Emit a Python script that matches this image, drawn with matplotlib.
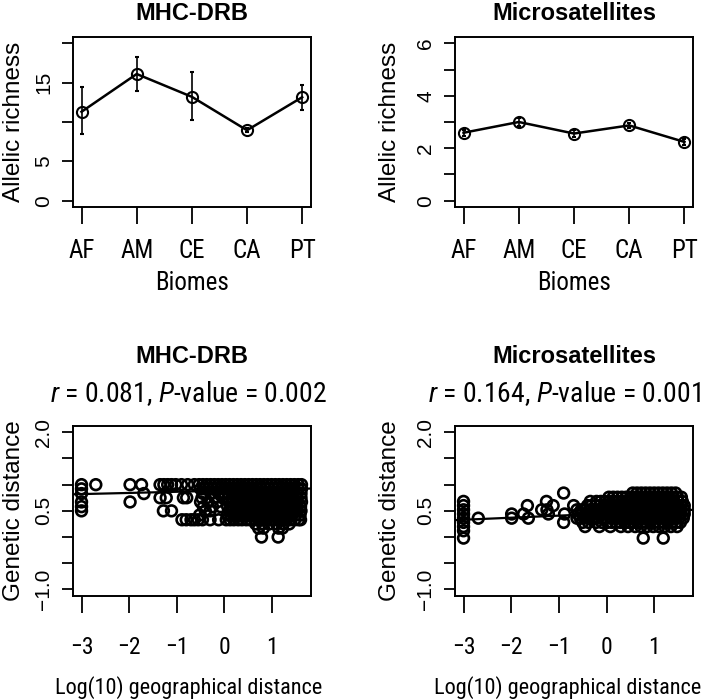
import numpy as np
import matplotlib.pyplot as plt

# narrow face for horizontal text, plain Liberation for the rotated bits
plt.rcParams['font.family'] = ['Roboto Condensed', 'DejaVu Sans Condensed', 'Liberation Sans']
plt.rcParams['mathtext.fontset'] = 'custom'
plt.rcParams['mathtext.it'] = 'Roboto Condensed:italic'
plt.rcParams['mathtext.rm'] = 'Roboto Condensed'

# top row: allelic richness per biome
biomes = ["AF", "AM", "CE", "CA", "PT"]
mhc_rich = [11.3, 16.1, 13.2, 8.95, 13.15]
mhc_lo = [8.5, 14.0, 10.2, 8.7, 11.55]
mhc_hi = [14.4, 18.3, 16.35, 9.2, 14.7]
msat_rich = [2.59, 3.0, 2.56, 2.87, 2.24]
msat_lo = [2.47, 2.86, 2.44, 2.76, 2.13]
msat_hi = [2.71, 3.14, 2.68, 2.98, 2.35]

# bottom row: genetic vs log10 geographic distance, points read row by row
mhc_levels = [1.0, 0.92, 0.83, 0.75, 0.67, 0.58, 0.5, 0.42, 0.33, 0.25, 0.17, 0.0]
mhc_rows = [
    [-3.0, -2.7, -1.98, -1.74, -1.35, -1.27, -1.19, -1.11, -1.02, -0.9, -0.77, -0.63, -0.53, -0.45,
     -0.37, -0.29, -0.21, -0.13, -0.05, 0.03, 0.11, 0.19, 0.27, 0.35, 0.43, 0.51, 0.59, 0.67, 0.75,
     0.83, 0.91, 0.99, 1.07, 1.15, 1.23, 1.31, 1.39, 1.47, 1.55, 1.62],
    [-3.0, -0.5, -0.41, -0.33, -0.24, -0.16, -0.07, 0.02, 0.1, 0.18, 0.27, 0.36, 0.44, 0.53, 0.61,
     0.7, 0.78, 0.87, 0.95, 1.04, 1.12, 1.21, 1.29, 1.38, 1.46, 1.55, 1.62],
    [-3.0, -1.69, -0.44, -0.28, -0.12, 0.0, 0.09, 0.17, 0.26, 0.34, 0.43, 0.51, 0.6, 0.68, 0.77,
     0.85, 0.94, 1.02, 1.11, 1.19, 1.28, 1.36, 1.45, 1.53, 1.61],
    [-1.35, -1.22, -0.86, -0.79, -0.47, -0.2, -0.04, 0.08, 0.16, 0.25, 0.33, 0.42, 0.5, 0.59, 0.67,
     0.76, 0.84, 0.93, 1.01, 1.1, 1.18, 1.27, 1.35, 1.44, 1.52, 1.61],
    [-3.0, -1.98, -0.5, -0.34, -0.15, 0.1, 0.18, 0.27, 0.35, 0.44, 0.52, 0.61, 0.69, 0.78, 0.86,
     0.95, 1.03, 1.12, 1.2, 1.29, 1.37, 1.46, 1.54, 1.62],
    [-3.0, -0.44, -0.25, -0.08, 0.07, 0.15, 0.24, 0.32, 0.41, 0.49, 0.58, 0.66, 0.75, 0.83, 0.92,
     1.0, 1.09, 1.17, 1.26, 1.34, 1.43, 1.51, 1.6],
    [-3.0, -1.28, -1.11, -0.4, -0.3, 0.1, 0.18, 0.27, 0.35, 0.44, 0.52, 0.61, 0.69, 0.78, 0.86,
     0.95, 1.03, 1.12, 1.2, 1.29, 1.37, 1.46, 1.54, 1.61],
    [-0.52, 0.06, 0.14, 0.23, 0.31, 0.4, 0.48, 0.57, 0.65, 0.74, 0.82, 0.91, 0.99, 1.08, 1.16,
     1.25, 1.33, 1.42, 1.5, 1.59],
    [-0.89, -0.8, -0.7, -0.63, -0.55, -0.46, -0.3, -0.12, 0.04, 0.12, 0.2, 0.29, 0.37, 0.46, 0.54,
     0.63, 0.71, 0.8, 0.88, 0.97, 1.05, 1.14, 1.22, 1.31, 1.39, 1.48, 1.56, 1.6],
    [0.66, 0.8, 0.94, 1.1, 1.24, 1.36],
    [0.72, 0.82, 1.14, 1.22],
    [0.78, 1.13],
]
mhc_fit = [0.886, 0.022]  # intercept, slope

msat_levels = [0.84, 0.76, 0.68, 0.6, 0.52, 0.44, 0.36, 0.28, 0.2, 0.12, -0.02]
msat_rows = [
    [-0.9, 0.55, 0.64, 0.73, 0.82, 0.91, 1.0, 1.09, 1.18, 1.27, 1.36, 1.45],
    [0.05, 0.14, 0.23, 0.32, 0.41, 0.5, 0.59, 0.68, 0.77, 0.86, 0.95, 1.04, 1.13, 1.22, 1.31, 1.4,
     1.49, 1.57],
    [-3.0, -1.26, -0.34, -0.21, -0.12, -0.03, 0.06, 0.15, 0.24, 0.33, 0.42, 0.51, 0.6, 0.69, 0.78,
     0.87, 0.96, 1.05, 1.14, 1.23, 1.32, 1.41, 1.5, 1.59],
    [-3.0, -1.66, -1.12, -0.69, -0.4, -0.32, -0.23, -0.14, -0.05, 0.04, 0.13, 0.22, 0.31, 0.4, 0.49,
     0.58, 0.67, 0.76, 0.85, 0.94, 1.03, 1.12, 1.21, 1.3, 1.39, 1.48, 1.57, 1.63],
    [-3.0, -1.36, -1.25, -0.62, -0.53, -0.44, -0.35, -0.26, -0.17, -0.08, 0.01, 0.1, 0.19, 0.28,
     0.37, 0.46, 0.55, 0.64, 0.73, 0.82, 0.91, 1.0, 1.09, 1.18, 1.27, 1.36, 1.45, 1.54, 1.63],
    [-3.0, -1.99, -1.74, -1.22, -0.88, -0.6, -0.51, -0.42, -0.33, -0.24, -0.15, -0.06, 0.03, 0.12,
     0.21, 0.3, 0.39, 0.48, 0.57, 0.66, 0.75, 0.84, 0.93, 1.02, 1.11, 1.2, 1.29, 1.38, 1.47, 1.56,
     1.63],
    [-3.0, -2.69, -1.99, -1.64, -0.62, -0.55, -0.46, -0.37, -0.28, -0.19, -0.1, -0.01, 0.08, 0.17,
     0.26, 0.35, 0.44, 0.53, 0.62, 0.71, 0.8, 0.89, 0.98, 1.07, 1.16, 1.25, 1.34, 1.43, 1.52, 1.61],
    [-3.0, -0.9, -0.5, -0.38, -0.22, -0.1, 0.02, 0.11, 0.2, 0.29, 0.38, 0.47, 0.56, 0.65, 0.74,
     0.83, 0.92, 1.01, 1.1, 1.19, 1.28, 1.37, 1.46, 1.55],
    [-3.0, -0.45, -0.15, 0.08, 0.3, 0.45, 0.6, 0.72, 0.85, 0.98, 1.1, 1.22, 1.35, 1.48],
    [-3.0],
    [-3.0, 0.77, 1.19],
]
msat_fit = [0.448, 0.0394]

W, H = 709, 700
fig = plt.figure(figsize=(W / 100, H / 100), dpi=100)


def add_box(x0, y0, x1, y1):
    return fig.add_axes([x0 / W, 1 - y1 / H, (x1 - x0) / W, (y1 - y0) / H])


def style(ax, xpad, xsize):
    for s in ax.spines.values():
        s.set_linewidth(1.4)
    ax.tick_params(axis='x', length=12, width=1.3, pad=xpad, labelsize=xsize)
    ax.tick_params(axis='y', length=8, width=1.3, pad=6, labelsize=15, labelrotation=90,
                   labelfontfamily='Liberation Sans')
    for lab in ax.get_yticklabels():
        lab.set_va('center')


ax_tl = add_box(72.7, 37, 311, 207)
ax_tr = add_box(454.7, 37, 693.3, 207)
ax_bl = add_box(72.7, 426, 311, 595.7)
ax_br = add_box(454.7, 426, 693.3, 595.7)

xpos = np.arange(1, 6)
for ax, y, lo, hi, ymax, yt, ylabs, title, ylx in [
    (ax_tl, mhc_rich, mhc_lo, mhc_hi, 20, [0, 5, 10, 15, 20], ["0", "5", "", "15", ""], "MHC-DRB", -0.246),
    (ax_tr, msat_rich, msat_lo, msat_hi, 6, [0, 1, 2, 3, 4, 5, 6], ["0", "", "2", "", "4", "", "6"],
     "Microsatellites", -0.271),
]:
    y = np.array(y)
    err = [y - np.array(lo), np.array(hi) - y]
    ax.errorbar(xpos, y, yerr=err, fmt='o-', color='k', mfc='none', mec='k', ms=8, mew=1.5,
                lw=1.8, elinewidth=1.2, capsize=1.5)
    ax.set_xlim(0.84, 5.16)
    ax.set_ylim(-0.04 * ymax, 1.04 * ymax)
    ax.set_xticks(xpos)
    ax.set_xticklabels(biomes)
    ax.set_yticks(yt)
    ax.set_yticklabels(ylabs)
    style(ax, 11, 18)
    ax.text(0.5, 1.141, title, transform=ax.transAxes, ha='center', va='center',
            fontsize=17, fontweight='bold', family='Liberation Sans')
    ax.text(0.5, -0.447, "Biomes", transform=ax.transAxes, ha='center', va='center', fontsize=18)
    ax.text(ylx, 0.5, "Allelic richness", transform=ax.transAxes, ha='center', va='center',
            rotation=90, fontsize=17.5, family='Liberation Sans')

for ax, levels, rows, fit, title, stat, sx, lx, ylx in [
    (ax_bl, mhc_levels, mhc_rows, mhc_fit, "MHC-DRB", r"$\it{r}$ = 0.081, $\it{P}$-value = 0.002",
     0.488, 0.488, -0.246),
    (ax_br, msat_levels, msat_rows, msat_fit, "Microsatellites", r"$\it{r}$ = 0.164, $\it{P}$-value = 0.001",
     0.46, 0.475, -0.271),
]:
    for lev, xs in zip(levels, rows):
        ax.scatter(xs, [lev] * len(xs), s=60, facecolors='none', edgecolors='k', linewidths=1.9)
    ax.axline((0, fit[0]), slope=fit[1], color='k', lw=1.6)
    ax.set_xlim(-3.185, 1.82)
    ax.set_ylim(-1.12, 2.12)
    ax.set_xticks([-3, -2, -1, 0, 1])
    ax.set_xticklabels(["\u22123", "\u22122", "\u22121", "0", "1"])
    ax.set_yticks([-1.0, -0.5, 0.0, 0.5, 1.0, 1.5, 2.0])
    ax.set_yticklabels(["\u22121.0", "", "", "0.5", "", "", "2.0"])
    style(ax, 17, 17)
    ax.text(0.5, 1.408, title, transform=ax.transAxes, ha='center', va='center',
            fontsize=17, fontweight='bold', family='Liberation Sans')
    ax.text(sx, 1.193, stat, transform=ax.transAxes, ha='center', va='center', fontsize=20)
    ax.text(lx, -0.54, "Log(10) geographical distance", transform=ax.transAxes,
            ha='center', va='center', fontsize=16)
    ax.text(ylx, 0.5, "Genetic distance", transform=ax.transAxes, ha='center', va='center',
            rotation=90, fontsize=17.5, family='Liberation Sans')

fig.savefig("out.png", dpi=100)
